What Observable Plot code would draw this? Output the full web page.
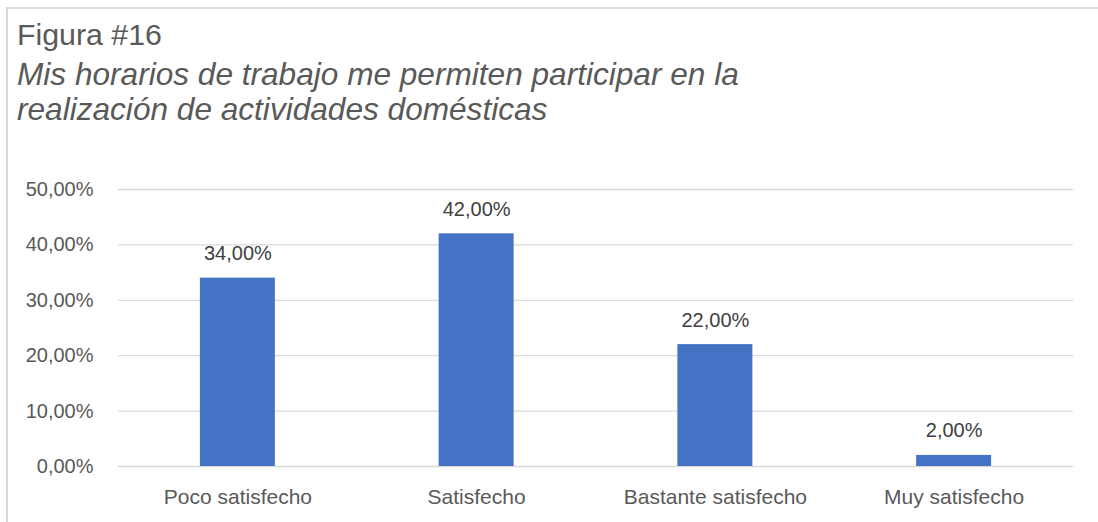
<!DOCTYPE html>
<html>
<head>
<meta charset="utf-8">
<script src="https://cdn.jsdelivr.net/npm/d3@7"></script>
<script src="https://cdn.jsdelivr.net/npm/@observablehq/plot@0.6"></script>
<style>
  html, body { margin: 0; padding: 0; background: #ffffff; overflow: hidden; }
  body { width: 1098px; height: 522px; position: relative; font-family: "Liberation Sans", Arial, sans-serif; }
  #frame { position: absolute; left: 6px; top: 7px; width: 1200px; height: 600px; border-top: 2px solid #d9d9d9; border-left: 2px solid #d9d9d9; box-sizing: border-box; }
  #title { position: absolute; left: 17px; top: 20px; font-size: 30.3px; line-height: 30px; color: #595959; white-space: nowrap; }
  #subtitle { position: absolute; left: 17px; top: 57px; font-size: 31.6px; line-height: 35px; color: #595959; font-style: italic; white-space: nowrap; }
  #chart { position: absolute; left: 0; top: 170px; }
</style>
</head>
<body>
<div id="frame"></div>
<div id="title">Figura #16</div>
<div id="subtitle">Mis horarios de trabajo me permiten participar en la<br>realización de actividades domésticas</div>
<div id="chart"></div>
<script>
const categories = ["Poco satisfecho", "Satisfecho", "Bastante satisfecho", "Muy satisfecho"];
const values = [34, 42, 22, 2];
const yTicks = [0, 10, 20, 30, 40, 50];

const fmt = v => v.toFixed(2).replace(".", ",") + "%";
const data = categories.map((c, i) => ({category: c, value: values[i]}));

const chart = Plot.plot({
  width: 1098,
  height: 352,
  marginLeft: 118,
  marginRight: 25,
  marginTop: 19,
  marginBottom: 56,
  style: {fontFamily: "Liberation Sans, Arial, sans-serif", fontSize: "20px", color: "#595959", background: "transparent", overflow: "visible"},
  x: {domain: categories, paddingInner: 0.686, paddingOuter: 0.343, round: false, label: null},
  y: {domain: [0, 50], label: null},
  marks: [
    Plot.gridY(yTicks, {stroke: "#d9d9d9", strokeOpacity: 1, strokeWidth: 1.3}),
    Plot.barY(data, {x: "category", y: "value", fill: "#4472C4"}),
    Plot.text(data, {x: "category", y: "value", text: d => fmt(d.value), lineAnchor: "bottom", dy: -18, fill: "#404040", fontSize: 20}),
    Plot.axisY(yTicks, {tickSize: 0, tickPadding: 25, tickFormat: fmt, fontSize: 20, fill: "#595959", label: null}),
    Plot.axisX({tickSize: 0, tickPadding: 23, fontSize: 21, fill: "#595959", label: null})
  ]
});
document.getElementById("chart").appendChild(chart);
</script>
</body>
</html>
